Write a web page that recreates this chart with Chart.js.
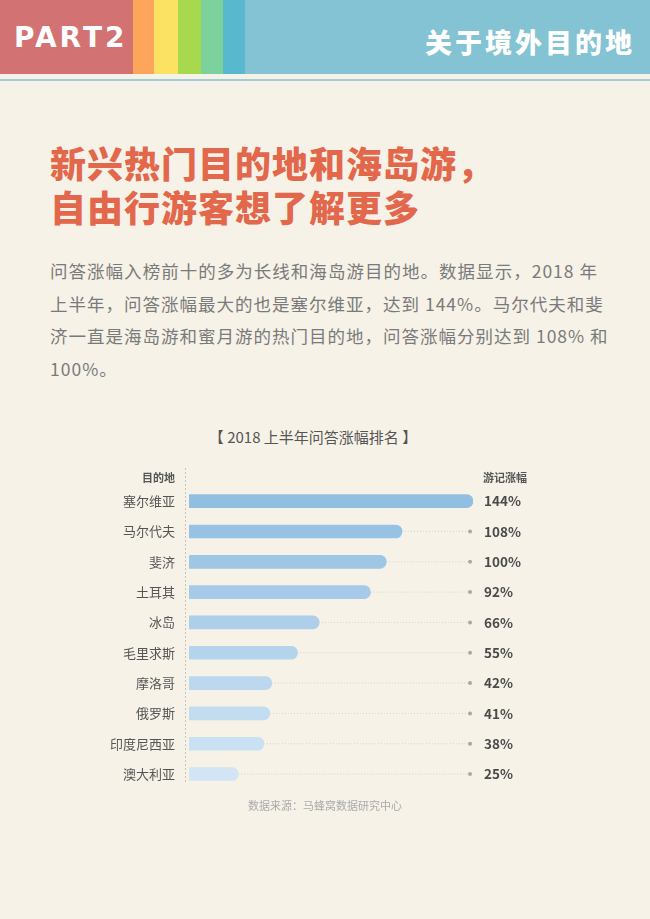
<!DOCTYPE html>
<html lang="zh">
<head>
  <meta charset="UTF-8">
  <title>2018 上半年问答涨幅排名</title>
  <script src="https://cdn.jsdelivr.net/npm/chart.js"></script>
  <style>
    body {
      margin: 0;
      width: 650px;
      height: 919px;
      background: #f6f2e8;
      font-family: "Noto Sans CJK SC", "Noto Sans", sans-serif;
      position: relative;
      overflow: hidden;
    }
    .band { position: absolute; top: 0; height: 74px; }
    .part {
      position: absolute; left: 14px; top: 21px;
      color: #fff; font: 900 28px "DejaVu Sans", sans-serif; letter-spacing: 3px;
    }
    .section {
      position: absolute; right: 15px; top: 22px;
      color: #fff; font-weight: 900; font-size: 27px; letter-spacing: 3px;
    }
    h1 {
      position: absolute; left: 50px; top: 140px; margin: 0;
      color: #e2674b; font-size: 36px; font-weight: 900; line-height: 44px;
      letter-spacing: 1px;
    }
    .intro {
      position: absolute; left: 50px; top: 255px; margin: 0; width: 548px;
      color: #7a7a7a; font-size: 17.5px; line-height: 32.5px; white-space: nowrap;
      letter-spacing: 1px;
    }
    .intro span { display: block; text-align: justify; text-align-last: justify; }
    .intro span.last { text-align-last: left; }
    .ctitle {
      position: absolute; left: 0; width: 626px; top: 426px; text-align: center;
      color: #555; font-size: 15px;
    }
    .src {
      position: absolute; left: 0; width: 650px; top: 797px; text-align: center;
      color: #aaa; font-size: 11px;
    }
    #wrap { position: absolute; left: 0; top: 460px; width: 650px; height: 351px; }
  </style>
</head>
<body>
  <div class="band" style="left:0;width:133px;background:#d37272"></div>
  <div class="band" style="left:133px;width:21px;background:#fca55b"></div>
  <div class="band" style="left:154px;width:24px;background:#fbe262"></div>
  <div class="band" style="left:178px;width:23px;background:#a6d94e"></div>
  <div class="band" style="left:201px;width:22px;background:#7dd19c"></div>
  <div class="band" style="left:223px;width:22px;background:#58b8cd"></div>
  <div class="band" style="left:245px;width:405px;background:#84c3d3"></div>
  <div style="position:absolute;left:0;top:79px;width:650px;height:2px;background:#a2ccd6"></div>
  <div class="part">PART2</div>
  <div class="section">关于境外目的地</div>

  <h1>新兴热门目的地和海岛游，<br>自由行游客想了解更多</h1>
  <p class="intro"><span>问答涨幅入榜前十的多为长线和海岛游目的地。数据显示，2018 年</span><span>上半年，问答涨幅最大的也是塞尔维亚，达到 144%。马尔代夫和斐</span><span>济一直是海岛游和蜜月游的热门目的地，问答涨幅分别达到 108% 和</span><span class="last">100%。</span></p>

  <div class="ctitle">【 2018 上半年问答涨幅排名 】</div>
  <div id="wrap"><canvas id="rank"></canvas></div>
  <div class="src">数据来源：马蜂窝数据研究中心</div>

  <script>
    // 目的地 与 问答涨幅 (%)
    const destinations = ['塞尔维亚', '马尔代夫', '斐济', '土耳其', '冰岛', '毛里求斯', '摩洛哥', '俄罗斯', '印度尼西亚', '澳大利亚'];
    const growth = [144, 108, 100, 92, 66, 55, 42, 41, 38, 25];
    const barColors = ['#90bfe2', '#96c2e4', '#9ec7e6', '#a6cbe8', '#adcfea', '#b4d4ec', '#bbd8ee', '#c2dcf0', '#c9e1f2', '#d1e5f4'];

    // 虚线轨道、端点、数值和表头
    const extras = {
      id: 'extras',
      beforeDatasetsDraw(chart) {
        const { ctx, chartArea, scales } = chart;
        const dotX = scales.x.getPixelForValue(142.5);
        ctx.save();
        // 左侧竖向虚线
        ctx.strokeStyle = '#c8c4bc';
        ctx.lineWidth = 1;
        ctx.setLineDash([2, 2]);
        ctx.beginPath();
        ctx.moveTo(chartArea.left - 3.5, 8);
        ctx.lineTo(chartArea.left - 3.5, chartArea.bottom - 6);
        ctx.stroke();
        ctx.strokeStyle = '#d6d2ca';
        ctx.setLineDash([1, 2]);
        growth.forEach((v, i) => {
          const y = scales.y.getPixelForValue(i);
          ctx.beginPath();
          ctx.moveTo(scales.x.getPixelForValue(v), y);
          ctx.lineTo(dotX, y);
          ctx.stroke();
          ctx.fillStyle = '#aaa8a4';
          ctx.beginPath();
          ctx.arc(dotX, y, 2, 0, Math.PI * 2);
          ctx.fill();
        });
        ctx.restore();
      },
      afterDatasetsDraw(chart) {
        const { ctx, chartArea, scales } = chart;
        ctx.save();
        ctx.textBaseline = 'middle';
        ctx.fillStyle = '#4a4a4a';
        ctx.font = 'bold 13.5px "Noto Sans CJK SC", sans-serif';
        growth.forEach((v, i) => {
          ctx.fillText(v + '%', chartArea.right + 11, scales.y.getPixelForValue(i));
        });
        ctx.fillStyle = '#555';
        ctx.font = 'bold 11px "Noto Sans CJK SC", sans-serif';
        ctx.fillText('游记涨幅', chartArea.right + 10, 18);
        ctx.textAlign = 'right';
        ctx.fillText('目的地', chartArea.left - 14, 18);
        ctx.restore();
      }
    };

    new Chart(document.getElementById('rank'), {
      type: 'bar',
      data: {
        labels: destinations,
        datasets: [{
          data: growth,
          backgroundColor: barColors,
          barThickness: 13,
          borderRadius: 7,
          borderSkipped: 'start'
        }]
      },
      options: {
        indexAxis: 'y',
        responsive: true,
        maintainAspectRatio: false,
        animation: false,
        layout: { padding: { top: 26, right: 177, bottom: 0, left: 0 } },
        plugins: { legend: { display: false }, tooltip: { enabled: false } },
        scales: {
          x: {
            min: 0, max: 144,
            display: false
          },
          y: {
            grid: { display: false, drawTicks: false },
            border: { display: false },
            afterFit(scale) { scale.width = 189; },
            ticks: {
              padding: 14,
              color: '#555',
              font: { size: 13, family: '"Noto Sans CJK SC", sans-serif' }
            }
          }
        }
      },
      plugins: [extras]
    });
  </script>
</body>
</html>
